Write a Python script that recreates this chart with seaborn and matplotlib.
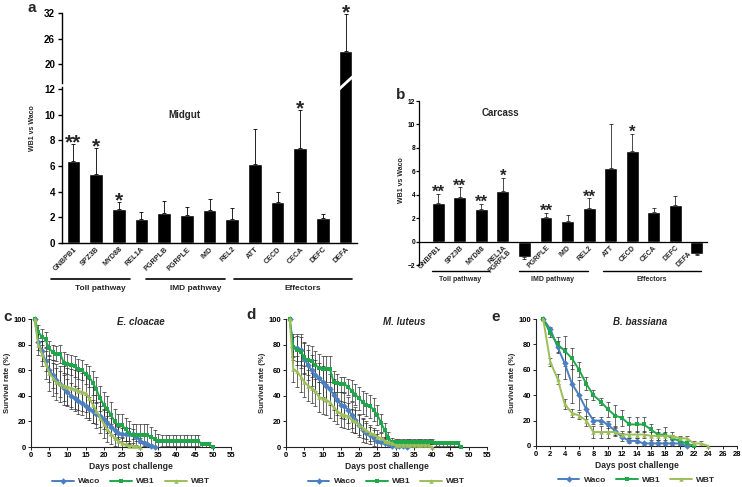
import numpy as np
import pandas as pd
import seaborn as sns
import matplotlib.pyplot as plt
import matplotlib.transforms as mtransforms

# ---- gene expression (panels a, b) ----
genes = ['GNBPB1', 'SPZ3B', 'MYD88', 'REL1A', 'PGRPLB', 'PGRPLE', 'IMD',
         'REL2', 'ATT', 'CECD', 'CECA', 'DEFC', 'DEFA']
midgut_fc = [6.4, 5.4, 2.65, 1.85, 2.35, 2.2, 2.55, 1.9, 6.15, 3.2, 7.4, 1.95, 23.0]
midgut_err = [1.3, 2.0, 0.55, 0.6, 0.9, 0.6, 0.85, 0.85, 2.7, 0.75, 2.95, 0.3, 8.8]
midgut_sig = ['**', '*', '*', '', '', '', '', '', '', '', '*', '', '*']
carcass_fc = [3.3, 3.8, 2.75, 4.35, -1.35, 2.1, 1.75, 2.9, 6.25, 7.7, 2.55, 3.15, -1.05]
carcass_err = [0.8, 0.85, 0.5, 1.1, 0.15, 0.35, 0.5, 0.8, 3.8, 1.5, 0.35, 0.7, 0.1]
carcass_sig = ['**', '**', '**', '*', '', '**', '', '**', '', '*', '', '', '']
carcass_ticklabels = ['GNBPB1', 'SPZ3B', 'MYD88', 'REL1A\nPGRPLB', '', 'PGRPLE', 'IMD',
                      'REL2', 'ATT', 'CECD', 'CECA', 'DEFC', 'DEFA']
groups = ['Toll pathway', 'IMD pathway', 'Effectors']

# ---- survival (panels c, d, e), day 1 onwards ----
strains = ['Waco', 'WB1', 'WBT']
c_waco = [100, 82, 75, 67, 60, 56, 52, 49, 46, 43, 40, 38, 36, 34, 32, 30, 28, 26, 24, 22,
          19, 16, 13, 11, 10, 10, 10, 10, 8, 5, 3, 2, 1, 0]
c_waco_err = [0, 6, 8, 8, 9, 10, 10, 10, 10, 10, 10, 10, 10, 9, 9, 9, 9, 8, 8, 8,
              8, 7, 6, 5, 5, 5, 5, 4, 3, 2, 2, 1, 1, 0]
c_wb1 = [100, 90, 86, 84, 77, 74, 73, 73, 66, 65, 64, 63, 61, 60, 57, 55, 50, 45, 38, 33,
         30, 25, 20, 17, 17, 14, 11, 9, 9, 9, 9, 9, 8, 6, 5, 5, 5, 5, 5, 5,
         5, 5, 5, 5, 5, 5, 2, 2, 2, 0]
c_wb1_err = [0, 5, 6, 6, 6, 6, 6, 7, 8, 8, 8, 8, 8, 8, 8, 8, 9, 10, 10, 10,
             10, 10, 10, 9, 9, 9, 9, 9, 9, 9, 9, 9, 8, 7, 5, 4, 4, 4, 4, 4,
             4, 4, 4, 4, 4, 4, 2, 2, 2, 0]
c_wbt = [100, 80, 73, 65, 58, 54, 51, 49, 48, 47, 46, 45, 44, 43, 42, 38, 33, 28, 23, 18,
         14, 10, 7, 5, 3, 2, 1, 1, 0.5, 0]
c_wbt_err = [0, 8, 10, 12, 14, 14, 14, 14, 15, 15, 15, 15, 15, 15, 15, 15, 14, 13, 12, 11,
             10, 8, 6, 5, 4, 3, 2, 2, 1, 0]

d_waco = [100, 78, 77, 76, 69, 64, 60, 56, 54, 51, 48, 45, 41, 37, 33, 32, 29, 25, 21, 17,
          13, 11, 9, 7, 5, 4, 3, 2, 1, 1, 1, 1, 0]
d_waco_err = [0, 8, 10, 12, 12, 12, 12, 12, 12, 12, 12, 12, 12, 12, 10, 10, 10, 10, 10, 9,
              9, 8, 7, 6, 5, 4, 3, 2, 1, 1, 1, 1, 0]
d_wb1 = [100, 78, 76, 74, 70, 68, 67, 64, 62, 61, 61, 61, 51, 50, 49, 49, 47, 44, 41, 38,
         35, 33, 32, 29, 25, 19, 13, 7, 4, 4, 4, 4, 4, 4, 4, 4, 4, 4, 4, 4,
         3, 3, 3, 3, 3, 3, 3, 0]
d_wb1_err = [0, 10, 12, 12, 12, 12, 12, 11, 11, 10, 10, 10, 8, 7, 6, 6, 6, 8, 8, 9,
             9, 9, 9, 9, 8, 7, 6, 5, 3, 2, 2, 2, 2, 2, 2, 2, 2, 2, 2, 2,
             2, 2, 2, 2, 2, 2, 2, 0]
d_wbt = [100, 61, 59, 55, 51, 48, 46, 44, 39, 38, 37, 35, 31, 28, 26, 25, 24, 21, 20, 17,
         15, 13, 11, 10, 8, 7, 5, 4, 3, 1.5, 1.5, 1.5, 1.5, 1.5, 1.5, 1.5, 1.5, 1.5, 1.5, 0]
d_wbt_err = [0, 10, 12, 12, 12, 12, 12, 12, 12, 12, 12, 12, 11, 10, 10, 10, 10, 9, 9, 8,
             8, 7, 6, 5, 5, 4, 3, 2, 1, 1, 1, 1, 1, 1, 1, 1, 1, 1, 1, 0]

e_waco = [100, 92, 78, 65, 49, 40, 29, 20, 20, 17, 12, 7, 4, 4, 2, 2, 2, 2, 2, 2, 0]
e_waco_err = [0, 2, 5, 12, 15, 12, 8, 3, 3, 3, 3, 3, 2, 2, 1, 1, 1, 1, 1, 1, 0]
e_wb1 = [100, 89, 80, 75, 69, 60, 49, 40, 35, 29, 24, 22, 17, 17, 17, 13, 9, 9, 6, 4, 2, 0]
e_wb1_err = [0, 3, 6, 12, 8, 6, 5, 4, 3, 6, 8, 6, 6, 6, 6, 4, 4, 6, 3, 3, 2, 0]
e_wbt = [100, 66, 53, 33, 26, 24, 20, 11, 11, 11, 11, 9, 9, 9, 9, 8, 8, 8, 8, 6, 6, 2, 2, 0]
e_wbt_err = [0, 3, 4, 4, 3, 3, 4, 5, 5, 5, 3, 3, 3, 3, 3, 3, 3, 3, 3, 2, 2, 2, 2, 0]

strain_colors = {'Waco': '#4a7fc1', 'WB1': '#1fa84a', 'WBT': '#9dbf5a'}
strain_markers = {'Waco': 'D', 'WB1': 's', 'WBT': '^'}

sns.set_style('ticks')
plt.rcParams['font.family'] = ['Liberation Sans', 'DejaVu Sans']
plt.rcParams['font.weight'] = 'bold'
plt.rcParams['axes.labelweight'] = 'bold'

W, H = 742, 487
fig = plt.figure(figsize=(W / 100, H / 100), dpi=100)


def px_axes(x0, y_top, x1, y_bot):
    return fig.add_axes([x0 / W, 1 - y_bot / H, (x1 - x0) / W, (y_bot - y_top) / H])


def draw_bars(ax, fc, err, lw=0.6, cap=1.5):
    sns.barplot(x=genes, y=fc, color='black', saturation=1, width=0.6,
                errorbar=None, ax=ax)
    lo = [e if v < 0 else 0 for v, e in zip(fc, err)]
    hi = [e if v >= 0 else 0 for v, e in zip(fc, err)]
    ax.errorbar(range(len(genes)), fc, yerr=[lo, hi], fmt='none', ecolor='black',
                elinewidth=lw, capsize=cap, capthick=lw)


def add_stars(ax, fc, err, sig, fs, ytop=None):
    for i, (v, e, s) in enumerate(zip(fc, err, sig)):
        top = v + e
        if not s or (ytop is not None and top > ytop):
            continue
        ax.annotate(s, (i, top), xytext=(0, -0.2 * fs), textcoords='offset points',
                    ha='center', va='baseline', fontsize=fs, fontweight='bold',
                    annotation_clip=False)


def add_groups(ax, spans, line_y, text_y, fs, lw):
    tr = mtransforms.blended_transform_factory(ax.transData, ax.transAxes)
    for name, (a, b, c) in zip(groups, spans):
        ax.plot([a, b], [line_y, line_y], color='black', lw=lw, transform=tr, clip_on=False)
        ax.text(c, text_y, name, transform=tr, ha='center', va='center', fontsize=fs,
                fontweight='bold')


# ---------------- panel a ----------------
ax_up = px_axes(62, 13, 357, 87)
ax_lo = px_axes(62, 87, 357, 243)
for ax in (ax_up, ax_lo):
    draw_bars(ax, midgut_fc, midgut_err)
    ax.set_xlim(-0.5, 12.5)
    for sp in ('top', 'right'):
        ax.spines[sp].set_visible(False)
    ax.spines['left'].set_linewidth(1.0)
    ax.spines['left'].set_color('black')
    ax.tick_params(axis='y', labelsize=7, length=3, width=1.0, pad=2, colors='black')
    ax.set_ylabel('')

ax_up.set_ylim(14.6, 32)
ax_up.set_yticks([20, 26, 32])
ax_up.spines['bottom'].set_visible(False)
ax_up.spines['left'].set_bounds(15.5, 32)
ax_up.set_xticks([])
add_stars(ax_up, midgut_fc, midgut_err, ['' if v < 12 else s for v, s in zip(midgut_fc, midgut_sig)], 15)

ax_lo.set_ylim(0, 12.15)
ax_lo.set_yticks(range(0, 13, 2))
ax_lo.spines['bottom'].set_linewidth(1.0)
ax_lo.spines['bottom'].set_color('black')
ax_lo.set_xticks(range(len(genes)))
ax_lo.set_xticklabels(genes, rotation=45, ha='right', rotation_mode='anchor',
                      fontsize=5.2, fontweight='bold')
ax_lo.tick_params(axis='x', length=0, pad=2)
add_stars(ax_lo, midgut_fc, midgut_err, midgut_sig, 15, ytop=12)
ax_lo.text(4.9, 10, 'Midgut', ha='center', va='center', fontsize=7, fontweight='bold')
# white break mark across the tall bar
tr = mtransforms.blended_transform_factory(ax_lo.transData, ax_lo.transAxes)
ax_lo.plot([11.7, 12.3], [0.985, 1.065], color='white', lw=2.0, transform=tr,
           clip_on=False, zorder=10)
add_groups(ax_lo, [(-1.0, 2.5, 1.2), (3.2, 6.7, 5.4), (7.1, 12.3, 10.1)],
           -0.231, -0.29, 6, 1.2)
fig.text(33 / W, 1 - 128 / H, 'WB1 vs Waco', rotation=90, ha='center', va='center',
         fontsize=5, fontweight='bold')
fig.text(27 / W, 1 - 8 / H, 'a', ha='left', va='center', fontsize=11, fontweight='bold')

# ---------------- panel b ----------------
ax_b = px_axes(419, 101, 707, 265)
draw_bars(ax_b, carcass_fc, carcass_err, lw=0.5, cap=1.3)
ax_b.set_xlim(-0.9, 12.48)
ax_b.set_ylim(-2, 12)
ax_b.set_yticks(range(-2, 13, 2))
for sp in ('top', 'right'):
    ax_b.spines[sp].set_visible(False)
ax_b.spines['bottom'].set_position(('data', 0))
for sp in ('left', 'bottom'):
    ax_b.spines[sp].set_linewidth(0.9)
    ax_b.spines[sp].set_color('black')
ax_b.set_ylabel('')
ax_b.set_xticks(range(len(genes)))
ax_b.set_xticklabels(carcass_ticklabels, rotation=45, ha='right', rotation_mode='anchor',
                     fontsize=5, fontweight='bold', linespacing=0.9)
ax_b.tick_params(axis='x', length=0, pad=2)
ax_b.tick_params(axis='y', labelsize=4.8, length=2, width=0.9, pad=0.8, colors='black')
# the last label sits beside its negative bar
last = ax_b.get_xticklabels()[-1]
last.set_transform(last.get_transform()
                   + mtransforms.ScaledTranslation(-6 / 72, -4 / 72, fig.dpi_scale_trans))
add_stars(ax_b, carcass_fc, carcass_err, carcass_sig, 12)
ax_b.text(2.87, 10.95, 'Carcass', ha='center', va='center', fontsize=7, fontweight='bold')
add_groups(ax_b, [(-0.3, 2.36, 1.0), (3.75, 6.96, 5.3), (7.66, 12.22, 9.9)],
           -0.037, -0.087, 5, 1.0)
fig.text(401 / W, 1 - 180 / H, 'WB1 vs Waco', rotation=90, ha='center', va='center',
         fontsize=5, fontweight='bold')
fig.text(396 / W, 1 - 95 / H, 'b', ha='left', va='center', fontsize=11, fontweight='bold')


# ---------------- panels c, d, e ----------------
def survival_panel(ax, series, xmax, xstep, title, title_x):
    frames = []
    for name, (vals, errs) in zip(strains, series):
        days = np.arange(1, len(vals) + 1)
        ax.errorbar(days, vals, yerr=errs, fmt='none', ecolor='#2e2e2e', elinewidth=0.5,
                    capsize=1.3, capthick=0.5, zorder=1)
        frames.append(pd.DataFrame({'day': days, 'survival': vals, 'strain': name}))
    df = pd.concat(frames, ignore_index=True)
    sns.lineplot(data=df, x='day', y='survival', hue='strain', style='strain',
                 palette=strain_colors, markers=strain_markers, dashes=False,
                 linewidth=1.4, markersize=3.3, markeredgewidth=0, ax=ax, zorder=3,
                 clip_on=False)
    ax.set_xlim(0, xmax)
    ax.set_ylim(0, 100)
    ax.set_xticks(range(0, xmax + 1, xstep))
    ax.set_yticks(range(0, 101, 20))
    sns.despine(ax=ax)
    for sp in ('left', 'bottom'):
        ax.spines[sp].set_linewidth(0.8)
        ax.spines[sp].set_color('#222222')
    ax.tick_params(labelsize=5.5, length=2, width=0.6, pad=1.5, colors='black')
    ax.set_xlabel('Days post challenge', fontsize=6.2, fontweight='bold', labelpad=2)
    ax.set_ylabel('Survival rate (%)', fontsize=5.5, fontweight='bold', labelpad=2)
    ax.text(title_x, 0.98, title, transform=ax.transAxes, ha='center', va='center',
            fontsize=7, fontweight='bold', style='italic')
    sns.move_legend(ax, 'center', bbox_to_anchor=(0.5, -0.27), ncol=3,
                    frameon=False, title=None, fontsize=6, handlelength=2.6,
                    columnspacing=1.2, handletextpad=0.5, borderpad=0,
                    borderaxespad=0)


ax_c = px_axes(31, 319, 231, 447)
survival_panel(ax_c, [(c_waco, c_waco_err), (c_wb1, c_wb1_err), (c_wbt, c_wbt_err)],
               55, 5, 'E. cloacae', 0.55)
ax_d = px_axes(286, 319, 487, 447)
survival_panel(ax_d, [(d_waco, d_waco_err), (d_wb1, d_wb1_err), (d_wbt, d_wbt_err)],
               55, 5, 'M. luteus', 0.59)
ax_e = px_axes(536, 319, 737, 446)
survival_panel(ax_e, [(e_waco, e_waco_err), (e_wb1, e_wb1_err), (e_wbt, e_wbt_err)],
               28, 2, 'B. bassiana', 0.52)

fig.text(3 / W, 1 - 317 / H, 'c', ha='left', va='center', fontsize=11, fontweight='bold')
fig.text(246 / W, 1 - 315 / H, 'd', ha='left', va='center', fontsize=11, fontweight='bold')
fig.text(491 / W, 1 - 317 / H, 'e', ha='left', va='center', fontsize=11, fontweight='bold')

fig.savefig('out.png', dpi=100)
